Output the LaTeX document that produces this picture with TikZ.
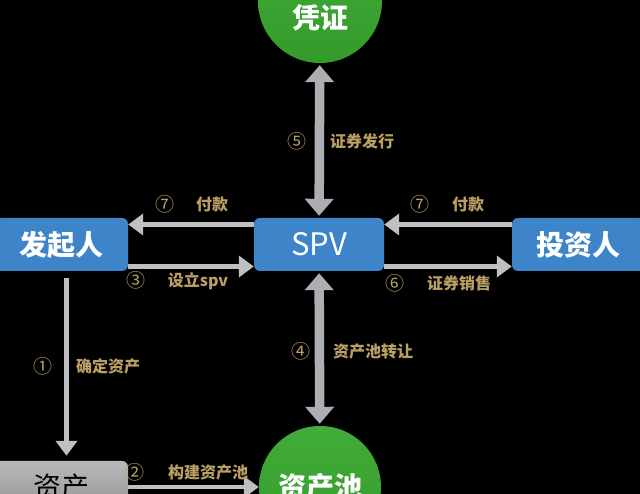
\documentclass[tikz,border=0pt]{standalone}
\usepackage{fontspec}
\setmainfont{Noto Sans CJK SC}
\usepackage{tikz}
\usetikzlibrary{arrows.meta}
\definecolor{boxblue}{HTML}{3D85C8}
\definecolor{ballgreen}{HTML}{38A82E}
\definecolor{arrowgray}{HTML}{ABAFB3}
\definecolor{chalkgray}{HTML}{BDBFC1}
\definecolor{labeltan}{HTML}{B99F63}
\tikzset{
  bluebox/.style={fill=boxblue,rounded corners=6pt,text=white,inner sep=0pt,minimum height=53pt,font=\fontsize{28}{28}\selectfont\bfseries},
  ball/.style={circle,top color=ballgreen!95!white,bottom color=ballgreen!92!black,inner sep=0pt},
  balltext/.style={text=white,inner sep=0pt,font=\fontsize{28}{28}\selectfont\bfseries},
  tag/.style={text=labeltan,inner sep=0pt,font=\fontsize{16}{16}\selectfont\bfseries},
  tagnum/.style={text=labeltan,inner sep=0pt,font=\fontsize{19}{19}\selectfont},
  bigarrow/.style={arrowgray,line width=9.5pt,{Triangle[width=28pt,length=17pt]}-{Triangle[width=28pt,length=17pt]}},
  thinarrow/.style={chalkgray,line width=4.5pt,-{Triangle[width=21pt,length=15pt]}}
}
\begin{document}
\begin{tikzpicture}[x=1pt,y=1pt]
    \fill[black] (0,0) rectangle (640,494);
    \clip (0,0) rectangle (640,494);
    \node[bluebox,minimum width=133pt] (faqiren) at (61.5,249.5) {发起人};
    \node[bluebox,minimum width=130pt,font=\fontsize{31}{31}\selectfont] (spv) at (319,249.5) {SPV};
    \node[bluebox,minimum width=133pt] (touziren) at (578.5,249.5) {投资人};
    \node[ball,minimum size=124pt] (pingzheng) at (320,493) {};
    \node[balltext] (pingzhengtext) at (320,476.5) {凭证};
    \node[ball,minimum size=122pt,balltext] (zichanchi) at (320,7) {资产池};
    \node[rounded corners=6pt,top color=gray!55,bottom color=gray!85,text=black,inner sep=0pt,minimum width=133pt,minimum height=52pt,font=\fontsize{28}{28}\selectfont] (zichan) at (61.5,7) {资产};
    \draw[bigarrow,shorten <=2pt,shorten >=2pt] (pingzheng) -- (spv);
    \draw[bigarrow,shorten <=2pt,shorten >=2pt] (spv) -- (zichanchi);
    \draw[thinarrow] ([yshift=20pt]spv.west) -- ([yshift=20pt]faqiren.east);
    \draw[thinarrow] ([yshift=-22pt]faqiren.east) -- ([yshift=-22pt]spv.west);
    \draw[thinarrow] ([yshift=20pt]touziren.west) -- ([yshift=20pt]spv.east);
    \draw[thinarrow] ([yshift=-22pt]spv.east) -- ([yshift=-22pt]touziren.west);
    \draw[thinarrow,shorten <=7pt,shorten >=5pt] ([xshift=5pt]faqiren.south) -- ([xshift=5pt]zichan.north);
    \draw[thinarrow] (zichan) -- (zichanchi);
    \node[tagnum] (n5) at (297,353) {⑤};
    \node[tag] (t5) at (362,353) {证券发行};
    \node[tagnum] (n7a) at (165,290) {⑦};
    \node[tag] (t7a) at (212,290) {付款};
    \node[tagnum] (n3) at (136,214) {③};
    \node[tag] (t3) at (198,213) {设立spv};
    \node[tagnum] (n7b) at (420,290) {⑦};
    \node[tag] (t7b) at (468,290) {付款};
    \node[tagnum] (n6) at (395,211) {⑥};
    \node[tag] (t6) at (459,211) {证券销售};
    \node[tagnum] (n4) at (301,143) {④};
    \node[tag] (t4) at (373,143) {资产池转让};
    \node[tagnum] (n1) at (43,128) {①};
    \node[tag] (t1) at (108,128) {确定资产};
    \node[tagnum] (n2) at (135,22) {②};
    \node[tag] (t2) at (208,22) {构建资产池};
\end{tikzpicture}
\end{document}
